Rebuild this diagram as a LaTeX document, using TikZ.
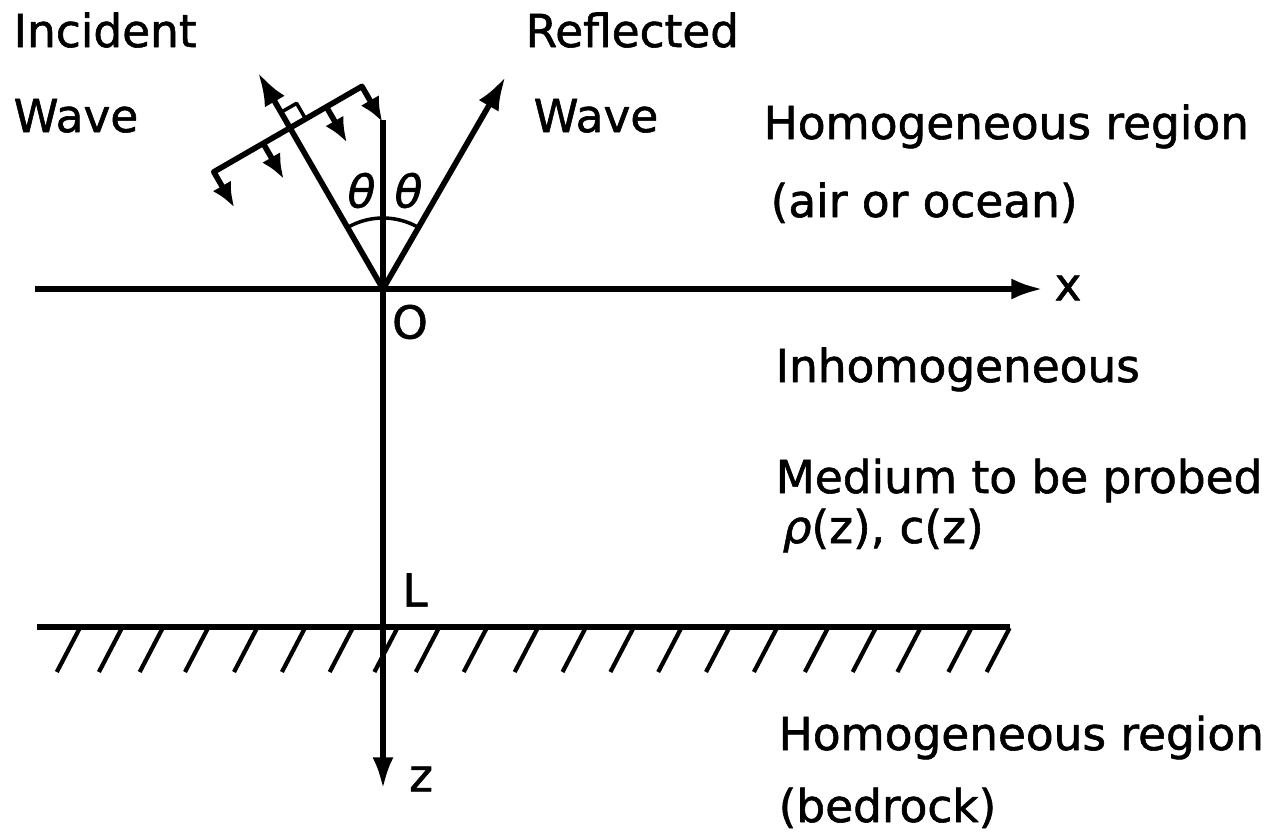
\documentclass[tikz,border=0pt]{standalone}
\usepackage{fontspec}
\setmainfont{DejaVu Sans}[FakeBold=1.3]
\newfontfamily\gr{DejaVu Sans}[FakeBold=1.3]
\usetikzlibrary{arrows.meta}
\begin{document}
\begin{tikzpicture}[x=0.01cm,y=-0.01cm,
  line join=round,
  main/.style={line width=1.6pt},
  thin line/.style={line width=1pt},
  hatchline/.style={line width=1.2pt},
  axisarrow/.style={-{Latex[length=9pt,width=6pt]}},
  rayarrow/.style={-{Latex[length=9.5pt,width=6.5pt]}},
  smallarrow/.style={-{Latex[length=7pt,width=6pt]}},
  lbl/.style={inner sep=0pt,anchor=base west,font=\fontsize{12.9}{15}\selectfont},
  sym/.style={inner sep=0pt,font=\fontsize{12.9}{15}\selectfont}]
\useasboundingbox (0,0) rectangle (1282,833);
% key points
\coordinate (O) at (383,289);
\coordinate (xs) at (35,289);
\coordinate (xe) at (1043,289);
\coordinate (zs) at (383,120);
\coordinate (ze) at (383,789);
\coordinate (Ti) at (258,72.5);
\coordinate (Tr) at (505.5,76.8);
\coordinate (P) at (290,127.9);
\coordinate (EL) at (213.8,171.9);
\coordinate (ER) at (361.9,86.4);
\coordinate (TL) at (234.3,207.4);
\coordinate (TR) at (382.4,121.9);
\coordinate (M1) at (263.2,143.4);
\coordinate (M1t) at (283.7,178.9);
\coordinate (M2) at (326.4,106.9);
\coordinate (M2t) at (346.9,142.4);
\coordinate (Q1) at (281,112.3);
\coordinate (Q2) at (296.6,103.3);
\coordinate (Q3) at (305.6,118.9);
\coordinate (bs) at (37,627);
\coordinate (be) at (1010,627);
% axes
\draw[main,axisarrow] (xs) -- (xe);
\draw[main,axisarrow] (zs) -- (ze);
% rays
\draw[main,rayarrow] (O) -- (Ti);
\draw[main,rayarrow] (O) -- (Tr);
% wavefront
\draw[main,{Latex[length=7pt,width=6pt]}-{Latex[length=7pt,width=6pt]}] (TL) -- (EL) -- (ER) -- (TR);
\draw[main,smallarrow] (M1) -- (M1t);
\draw[main,smallarrow] (M2) -- (M2t);
\draw[thin line] (Q1) -- (Q2) -- (Q3);
% angle arc
\draw[thin line] (O) ++(-35.5,-61.5) arc[start angle=-120,end angle=-60,radius=71];
% bedrock
\draw[main] (bs) -- (be);
\foreach \b in {56.8,98.9,139.7,185,234,281.9,329.7,374.4,415.8,463.7,514.7,562.5,610.4,658.2,706,753.9,804.9,852.7,897.4,948.4,986.6}
  \draw[hatchline] (\b,672) -- ({\b+23},628);
% labels
\node[sym] (th1) at (361.5,190.5) {\gr\itshape θ};
\node[sym] (th2) at (408.5,190.5) {\gr\itshape θ};
\node[sym] (lO) at (410,322) {O};
\node[sym] (lx) at (1068,288) {x};
\node[sym] (lL) at (415,590) {L};
\node[sym] (lz) at (421,779) {z};
\node[lbl] (inc1) at (13,47) {Incident};
\node[lbl] (inc2) at (13,132) {Wave};
\node[lbl] (ref1) at (525,47) {Reflected};
\node[lbl] (ref2) at (533,132) {Wave};
\node[lbl] (h1) at (763,139) {Homogeneous region};
\node[lbl] (h2) at (770,217) {(air or ocean)};
\node[lbl] (in1) at (775,382) {Inhomogeneous};
\node[lbl] (in2) at (775,493) {Medium to be probed};
\node[lbl] (in3) at (782,543) {{\gr\itshape ρ}(z), c(z)};
\node[lbl] (b1) at (778,750) {Homogeneous region};
\node[lbl] (b2) at (778,822) {(bedrock)};
\end{tikzpicture}
\end{document}
